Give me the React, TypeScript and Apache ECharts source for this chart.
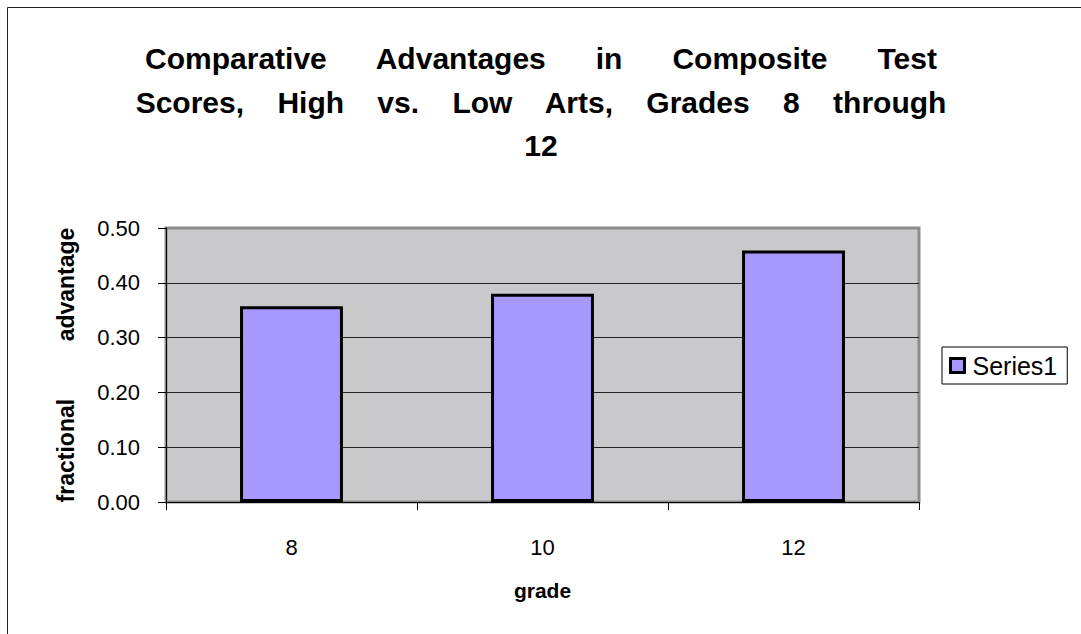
import React, { useEffect, useRef } from "react";
import * as echarts from "echarts";

const categories = ["8", "10", "12"];
const seriesValues = [0.357, 0.38, 0.459];
const seriesName = "Series1";
const titleLines = [
  "Comparative      Advantages      in      Composite      Test",
  "Scores,    High    vs.    Low    Arts,    Grades    8    through",
  "12",
];
const yAxisName = "fractional         advantage";
const xAxisName = "grade";

const FONT = "'Liberation Sans', Arial, Helvetica, sans-serif";

export default function App() {
  const ref = useRef<HTMLDivElement>(null);
  useEffect(() => {
    if (!ref.current) return;
    const chart = echarts.init(ref.current, undefined, { renderer: "svg" });
    chart.setOption({
      animation: false,
      backgroundColor: "#ffffff",
      textStyle: { fontFamily: FONT, color: "#000" },
      title: {
        text: titleLines.join("\n"),
        left: 541,
        top: 37,
        padding: 0,
        textAlign: "center",
        textStyle: {
          fontFamily: FONT,
          fontSize: 30,
          fontWeight: "bold",
          color: "#000",
          lineHeight: 43.5,
        },
      },
      graphic: [
        {
          type: "rect",
          shape: { x: 7.5, y: 7.5, width: 1200, height: 800 },
          style: { fill: "none", stroke: "#222", lineWidth: 1 },
          silent: true,
          z: -10,
        },
      ],
      legend: {
        left: 942,
        top: 347,
        orient: "vertical",
        padding: [6, 10, 6, 7],
        borderColor: "#000",
        borderWidth: 1,
        itemWidth: 14,
        itemHeight: 14,
        itemGap: 0,
        icon: "rect",
        itemStyle: { borderColor: "#000", borderWidth: 3 },
        textStyle: {
          fontFamily: FONT,
          fontSize: 25,
          color: "#000",
          lineHeight: 24,
          padding: [0, 0, 0, 3],
        },
        data: [seriesName],
      },
      grid: {
        left: 166,
        top: 228,
        right: 162,
        bottom: 132,
        show: true,
        backgroundColor: "#C9C9CB",
        borderColor: "#8C8C8C",
        borderWidth: 3,
      },
      xAxis: {
        type: "category",
        data: categories,
        boundaryGap: true,
        name: xAxisName,
        nameLocation: "middle",
        nameGap: 78,
        nameTextStyle: {
          fontFamily: FONT,
          fontSize: 21,
          fontWeight: "bold",
          color: "#000",
        },
        axisLine: { show: true, lineStyle: { color: "#000", width: 1 } },
        axisTick: { show: true, length: 8, lineStyle: { color: "#000" } },
        axisLabel: {
          fontFamily: FONT,
          fontSize: 22,
          color: "#000",
          margin: 34,
        },
        splitLine: { show: false },
      },
      yAxis: {
        type: "value",
        min: 0,
        max: 0.5,
        interval: 0.1,
        name: yAxisName,
        nameLocation: "middle",
        nameGap: 89,
        nameRotate: 90,
        nameTextStyle: {
          fontFamily: FONT,
          fontSize: 23,
          fontWeight: "bold",
          color: "#000",
        },
        axisLine: { show: true, lineStyle: { color: "#000", width: 1 } },
        axisTick: { show: true, length: 8, lineStyle: { color: "#000" } },
        axisLabel: {
          fontFamily: FONT,
          fontSize: 22,
          color: "#000",
          margin: 26,
          formatter: (v: number) => v.toFixed(2),
        },
        splitLine: {
          show: true,
          lineStyle: {
            color: ["#222", "#222", "#222", "#222", "#222", "#8C8C8C"],
            width: 1,
          },
        },
      },
      series: [
        {
          name: seriesName,
          type: "bar",
          data: seriesValues,
          barWidth: "41%",
          itemStyle: {
            color: "#A899FF",
            borderColor: "#000",
            borderWidth: 3,
          },
        },
      ],
    });
    return () => chart.dispose();
  }, []);
  return (
    <div
      ref={ref}
      style={{ position: "fixed", left: 0, top: 0, width: 1081, height: 634 }}
    />
  );
}
